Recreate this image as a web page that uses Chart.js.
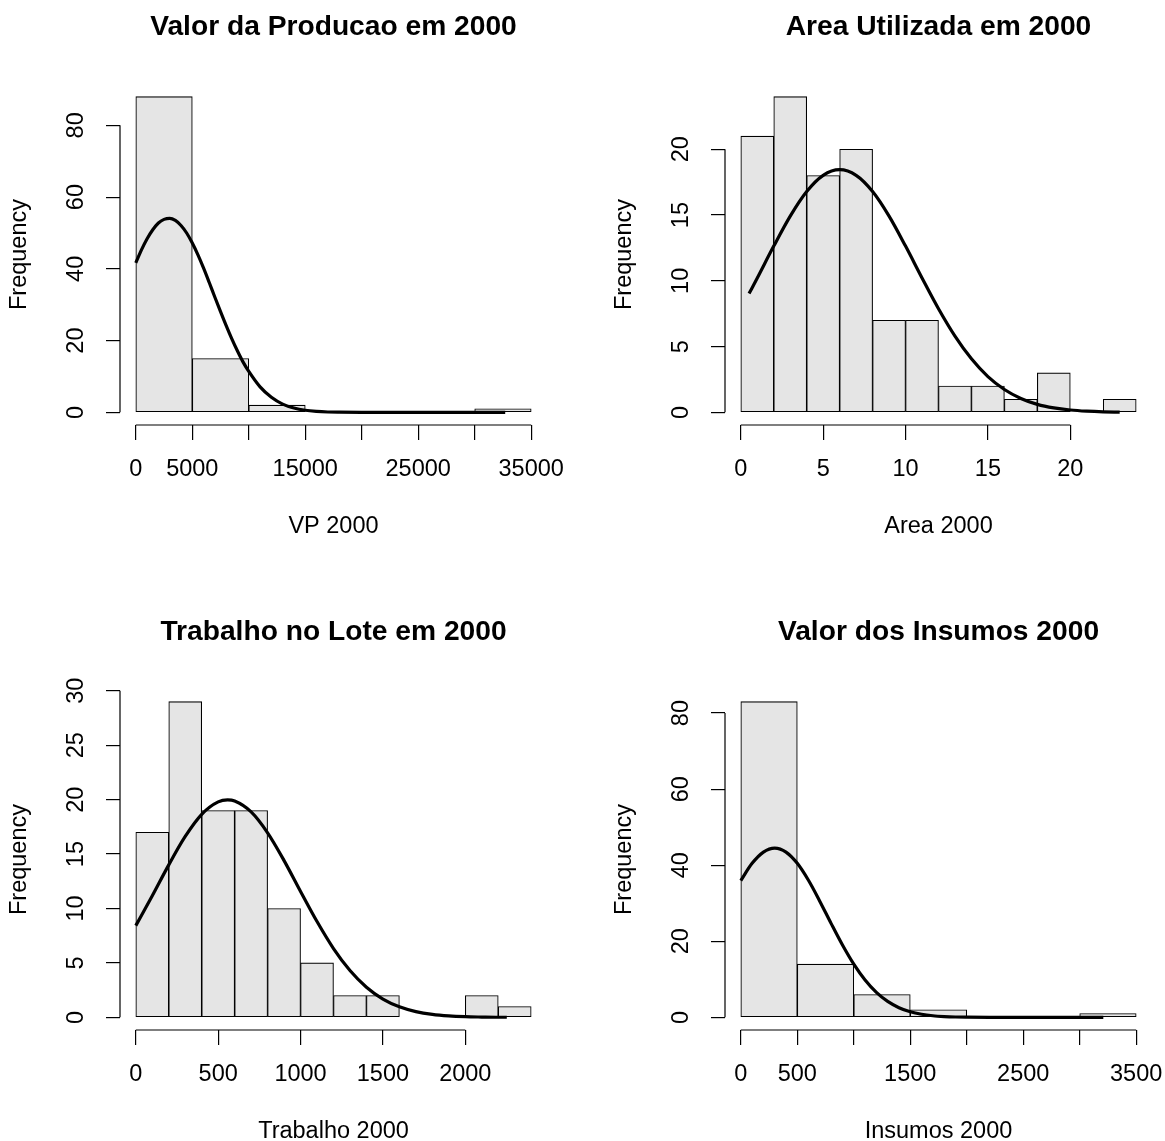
<!DOCTYPE html>
<html lang="pt">
<head>
<meta charset="utf-8">
<title>Histogramas 2000</title>
<script src="https://cdn.jsdelivr.net/npm/chart.js@4.4.1/dist/chart.umd.min.js"></script>
<style>
  html, body { margin: 0; padding: 0; background: #fff; }
  body { position: relative; width: 1165px; height: 1141px; overflow: hidden; }
  canvas { position: absolute; }
</style>
</head>
<body>
<canvas id="vp-chart" width="605" height="605" style="left:0;top:0"></canvas>
<canvas id="area-chart" width="605" height="605" style="left:605px;top:0"></canvas>
<canvas id="trab-chart" width="605" height="605" style="left:0;top:605px"></canvas>
<canvas id="ins-chart" width="605" height="605" style="left:605px;top:605px"></canvas>
<script>
// 直方图: 分组边界与频数
const vpBreaks = [0, 5000, 10000, 15000, 20000, 25000, 30000, 35000];
const vpCounts = [88, 15, 2, 0, 0, 0, 1];
const areaBreaks = [0, 2, 4, 6, 8, 10, 12, 14, 16, 18, 20, 22, 24];
const areaCounts = [21, 24, 18, 20, 7, 7, 2, 2, 1, 3, 0, 1];
const trabBreaks = [0, 200, 400, 600, 800, 1000, 1200, 1400, 1600, 1800, 2000, 2200, 2400];
const trabCounts = [17, 29, 19, 19, 10, 5, 2, 2, 0, 0, 2, 1];
const insBreaks = [0, 500, 1000, 1500, 2000, 2500, 3000, 3500];
const insCounts = [83, 14, 6, 2, 0, 0, 1];

// 正态曲线
const vpCurveX = [0, 500, 1000, 1500, 2000, 2500, 3000, 3500, 4000, 4500, 5000, 5500, 6000, 6500, 7000, 7500, 8000, 8500, 9000, 9500, 10000, 11000, 12000, 13000, 14000, 15000, 16000, 17000, 18000, 20000, 24000, 28000, 32700];
const vpCurveY = [41.7, 45.3, 48.4, 50.9, 52.8, 53.8, 54.1, 53.5, 52.1, 50.0, 47.2, 43.9, 40.2, 36.2, 32.1, 28.1, 24.2, 20.5, 17.1, 14.0, 11.4, 7.1, 4.2, 2.3, 1.2, 0.58, 0.27, 0.11, 0.05, 0.01, 0, 0, 0];
const areaCurveX = [0.5, 1, 2, 3, 4, 5, 6, 7, 8, 9, 10, 11, 12, 13, 14, 15, 16, 17, 18, 19, 20, 21, 22, 23];
const areaCurveY = [9.03, 10.22, 12.64, 14.92, 16.79, 18.02, 18.45, 18.02, 16.79, 14.92, 12.64, 10.22, 7.88, 5.80, 4.07, 2.72, 1.74, 1.06, 0.61, 0.34, 0.18, 0.09, 0.04, 0.02];
const trabCurveX = [0, 100, 200, 300, 400, 500, 557, 600, 700, 800, 900, 1000, 1100, 1200, 1300, 1400, 1500, 1600, 1700, 1800, 1900, 2000, 2100, 2200, 2252];
const trabCurveY = [8.43, 11.17, 14.01, 16.62, 18.65, 19.79, 19.97, 19.87, 18.87, 16.95, 14.40, 11.57, 8.80, 6.32, 4.30, 2.77, 1.68, 0.97, 0.53, 0.27, 0.13, 0.06, 0.03, 0.01, 0.01];
const insCurveX = [0, 100, 200, 300, 400, 500, 600, 700, 800, 900, 1000, 1100, 1200, 1300, 1400, 1500, 1600, 1700, 1800, 1900, 2000, 2200, 2500, 3209];
const insCurveY = [35.97, 40.49, 43.46, 44.5, 43.46, 40.49, 35.97, 30.49, 24.65, 19.01, 13.98, 9.81, 6.56, 4.19, 2.55, 1.48, 0.82, 0.43, 0.22, 0.10, 0.05, 0.01, 0, 0];

// 坐标轴刻度与标签
const vpXTicks = [0, 5000, 10000, 15000, 20000, 25000, 30000, 35000];
const vpXLabels = ['0', '5000', '', '15000', '', '25000', '', '35000'];
const vpYTicks = [0, 20, 40, 60, 80];
const areaXTicks = [0, 5, 10, 15, 20];
const areaXLabels = ['0', '5', '10', '15', '20'];
const areaYTicks = [0, 5, 10, 15, 20];
const trabXTicks = [0, 500, 1000, 1500, 2000];
const trabXLabels = ['0', '500', '1000', '1500', '2000'];
const trabYTicks = [0, 5, 10, 15, 20, 25, 30];
const insXTicks = [0, 500, 1000, 1500, 2000, 2500, 3000, 3500];
const insXLabels = ['0', '500', '', '1500', '', '2500', '', '3500'];
const insYTicks = [0, 20, 40, 60, 80];

const baseFont = 23.5;
const titleFont = 28.2;

Chart.defaults.font.family = '"Liberation Sans", Arial, Helvetica, sans-serif';
Chart.defaults.color = '#000';

// 画 R 风格的坐标轴线 (只到首尾刻度)
const axisLinePlugin = {
    id: 'axisLines',
    afterDraw(chart) {
        const { ctx, chartArea, scales } = chart;
        const xt = scales.x.ticks;
        const yt = scales.y.ticks;
        ctx.save();
        ctx.strokeStyle = '#000';
        ctx.lineWidth = 1.2;
        ctx.beginPath();
        ctx.moveTo(scales.x.getPixelForValue(xt[0].value), chartArea.bottom);
        ctx.lineTo(scales.x.getPixelForValue(xt[xt.length - 1].value), chartArea.bottom);
        ctx.moveTo(chartArea.left, scales.y.getPixelForValue(yt[0].value));
        ctx.lineTo(chartArea.left, scales.y.getPixelForValue(yt[yt.length - 1].value));
        ctx.stroke();
        ctx.restore();
    }
};

function makeHistogram(canvasId, title, xTitle, breaks, counts, curveX, curveY, xTicks, xLabels, yTicks) {
    const bars = counts.map((c, i) => ({ x: (breaks[i] + breaks[i + 1]) / 2, y: c }));
    const curve = curveX.map((x, i) => ({ x: x, y: curveY[i] }));
    const lo = breaks[0];
    const hi = breaks[breaks.length - 1];
    const ymax = Math.max(...counts);
    const ctx = document.getElementById(canvasId).getContext('2d');

    return new Chart(ctx, {
        type: 'bar',
        data: {
            datasets: [{
                type: 'line',
                data: curve,
                borderColor: '#000',
                borderWidth: 3.2,
                pointRadius: 0,
                fill: false,
                cubicInterpolationMode: 'monotone',
                order: 1
            }, {
                type: 'bar',
                data: bars,
                backgroundColor: '#e5e5e5',
                borderColor: '#000',
                borderWidth: 1.1,
                borderSkipped: false,
                barPercentage: 1,
                categoryPercentage: 1,
                order: 2
            }]
        },
        options: {
            responsive: false,
            animation: false,
            events: [],
            layout: { padding: { left: 0, right: 58, top: 0, bottom: 60 } },
            plugins: {
                legend: { display: false },
                tooltip: { enabled: false },
                title: {
                    display: true,
                    text: title,
                    fullSize: false,
                    color: '#000',
                    font: { size: titleFont, weight: 'bold' },
                    padding: { top: 10, bottom: 40.2 }
                }
            },
            scales: {
                x: {
                    type: 'linear',
                    position: 'bottom',
                    min: lo - 0.04 * (hi - lo),
                    max: hi + 0.04 * (hi - lo),
                    offset: false,
                    afterBuildTicks: s => { s.ticks = xTicks.map(v => ({ value: v })); },
                    afterFit: s => { s.height = 120; s.paddingLeft = 0; s.paddingRight = 0; },
                    border: { display: false },
                    grid: { offset: false, drawOnChartArea: false, tickLength: 15, color: '#000', lineWidth: 1.2 },
                    ticks: {
                        autoSkip: false,
                        minRotation: 0,
                        maxRotation: 0,
                        padding: 15.6,
                        font: { size: baseFont },
                        callback: (v, i) => xLabels[i]
                    },
                    title: { display: true, text: xTitle, font: { size: baseFont }, padding: { top: 0, bottom: 3.9 } }
                },
                y: {
                    type: 'linear',
                    position: 'left',
                    min: -0.04 * ymax,
                    max: 1.04 * ymax,
                    afterBuildTicks: s => { s.ticks = yTicks.map(v => ({ value: v })); },
                    afterFit: s => { s.width = 120; s.paddingTop = 0; s.paddingBottom = 0; },
                    border: { display: false },
                    grid: { drawOnChartArea: false, tickLength: 14, color: '#000', lineWidth: 1.2 },
                    ticks: {
                        autoSkip: false,
                        minRotation: 90,
                        maxRotation: 90,
                        crossAlign: 'center',
                        padding: 16,
                        font: { size: baseFont },
                        callback: v => String(v)
                    },
                    title: { display: true, text: 'Frequency', font: { size: baseFont }, padding: { top: 5.4, bottom: 0 } }
                }
            }
        },
        plugins: [axisLinePlugin]
    });
}

makeHistogram('vp-chart', 'Valor da Producao em 2000', 'VP 2000',
    vpBreaks, vpCounts, vpCurveX, vpCurveY, vpXTicks, vpXLabels, vpYTicks);
makeHistogram('area-chart', 'Area Utilizada em 2000', 'Area 2000',
    areaBreaks, areaCounts, areaCurveX, areaCurveY, areaXTicks, areaXLabels, areaYTicks);
makeHistogram('trab-chart', 'Trabalho no Lote em 2000', 'Trabalho 2000',
    trabBreaks, trabCounts, trabCurveX, trabCurveY, trabXTicks, trabXLabels, trabYTicks);
makeHistogram('ins-chart', 'Valor dos Insumos 2000', 'Insumos 2000',
    insBreaks, insCounts, insCurveX, insCurveY, insXTicks, insXLabels, insYTicks);
</script>
</body>
</html>
